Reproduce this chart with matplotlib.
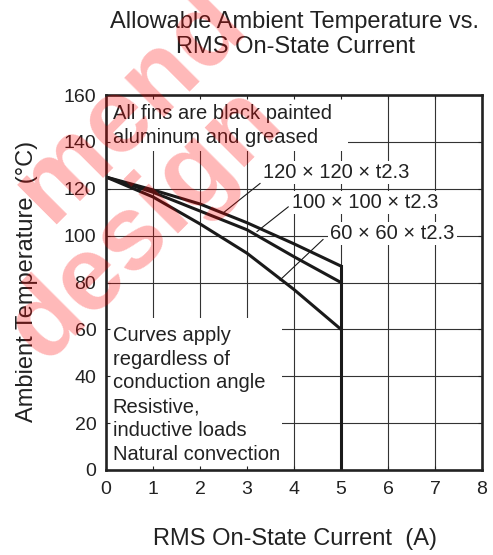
import matplotlib
matplotlib.use("Agg")
import matplotlib.pyplot as plt
from matplotlib.patches import Rectangle

plt.rcParams['font.family'] = ['Liberation Sans', 'DejaVu Sans']

# ---- data ----
current = [0, 1, 2, 3, 4, 5]
temp_120 = [125, 119.5, 113.5, 105.5, 96.5, 87]
temp_100 = [125, 118.5, 110.5, 102.5, 91, 80]
temp_60 = [125, 116.5, 105, 92.5, 77, 60]
series_labels = ["120 \u00d7 120 \u00d7 t2.3", "100 \u00d7 100 \u00d7 t2.3", "60 \u00d7 60 \u00d7 t2.3"]
label_pos = [(3.35, 124.6), (3.95, 111.6), (4.77, 98.4)]
leader_start = [(3.28, 122.3), (3.88, 112.3), (4.62, 98.4)]
leader_tip = [(2.50, 109.8), (3.21, 101.7), (3.70, 81.0)]
x_ticks = [0, 1, 2, 3, 4, 5, 6, 7, 8]
y_ticks = [0, 20, 40, 60, 80, 100, 120, 140, 160]
note_top = ["All fins are black painted", "aluminum and greased"]
note_bottom = ["Curves apply", "regardless of", "conduction angle",
               "Resistive,", "inductive loads", "Natural convection"]

W, H = 493, 555
fig = plt.figure(figsize=(W / 100, H / 100), dpi=100)
ax = fig.add_axes([106 / W, 1 - 470 / H, (482 - 106) / W, (470 - 95) / H])
ax.set_xlim(0, 8)
ax.set_ylim(0, 160)
ax.set_xticks(x_ticks)
ax.set_yticks(y_ticks)
ax.tick_params(direction='in', length=3, width=0.8, top=True, right=True,
               labelsize=14, pad=7, colors='#222222')
ax.tick_params(axis='x', pad=8)
ax.set_axisbelow(False)
for xv in x_ticks:
    ax.axvline(xv, color='#333333', linewidth=0.8, zorder=0.3)
for yv in y_ticks:
    ax.axhline(yv, color='#333333', linewidth=0.8, zorder=0.3)
for s in ax.spines.values():
    s.set_linewidth(1.9)
    s.set_color('#222222')
    s.set_zorder(6)

# white boxes behind notes
ax.add_patch(Rectangle((0, 136), 5.15, 24, facecolor='white', edgecolor='none', zorder=0.6))
ax.add_patch(Rectangle((0, 0), 3.74, 64.8, facecolor='white', edgecolor='none', zorder=0.6))

lw = 2.2
for ys in (temp_120, temp_100, temp_60):
    ax.plot(current, ys, color='#1a1a1a', linewidth=lw, zorder=3, solid_joinstyle='round')
ax.plot([current[-1], current[-1]], [0, temp_120[-1]], color='#1a1a1a', linewidth=lw, zorder=3)

for lab, (lx, ly), st, tp in zip(series_labels, label_pos, leader_start, leader_tip):
    ax.annotate('', xy=tp, xytext=st,
                arrowprops=dict(arrowstyle='-', color='#1a1a1a', lw=0.8, shrinkA=0, shrinkB=0),
                zorder=4)
    ax.text(lx, ly, lab, fontsize=14.5, va='baseline', ha='left', color='#222222', zorder=5,
            bbox=dict(facecolor='white', edgecolor='none', pad=1.5))

for i, line in enumerate(note_top):
    ax.text(0.14, 149.6 - i * 10.2, line, fontsize=14.5, va='baseline', ha='left',
            color='#222222', zorder=5)
for i, line in enumerate(note_bottom):
    ax.text(0.14, 55.2 - i * 10.2, line, fontsize=14.5, va='baseline', ha='left',
            color='#222222', zorder=5)

# titles and axis labels
fig.text(295 / W, 1 - 28.3 / H, "Allowable Ambient Temperature vs.", fontsize=17,
         ha='center', va='baseline', color='#222222')
fig.text(295 / W, 1 - 53 / H, "RMS On-State Current", fontsize=17,
         ha='center', va='baseline', color='#222222')
fig.text(295 / W, 1 - 545 / H, "RMS On-State Current  (A)", fontsize=17,
         ha='center', va='baseline', color='#222222')
fig.text(27 / W, 1 - 281.5 / H, "Ambient Temperature  (\u00b0C)", fontsize=17,
         ha='center', va='center', rotation=90, color='#222222')

# watermark
wm = dict(fontsize=76, fontweight='bold', color=(1, 0, 0, 0.28), rotation=45,
          rotation_mode='anchor', ha='center', va='center', zorder=10)
fig.text(130 / W, 1 - 105 / H, "mend", **wm)
fig.text(145 / W, 1 - 224 / H, "design", **wm)

fig.savefig("out.png", dpi=100)
